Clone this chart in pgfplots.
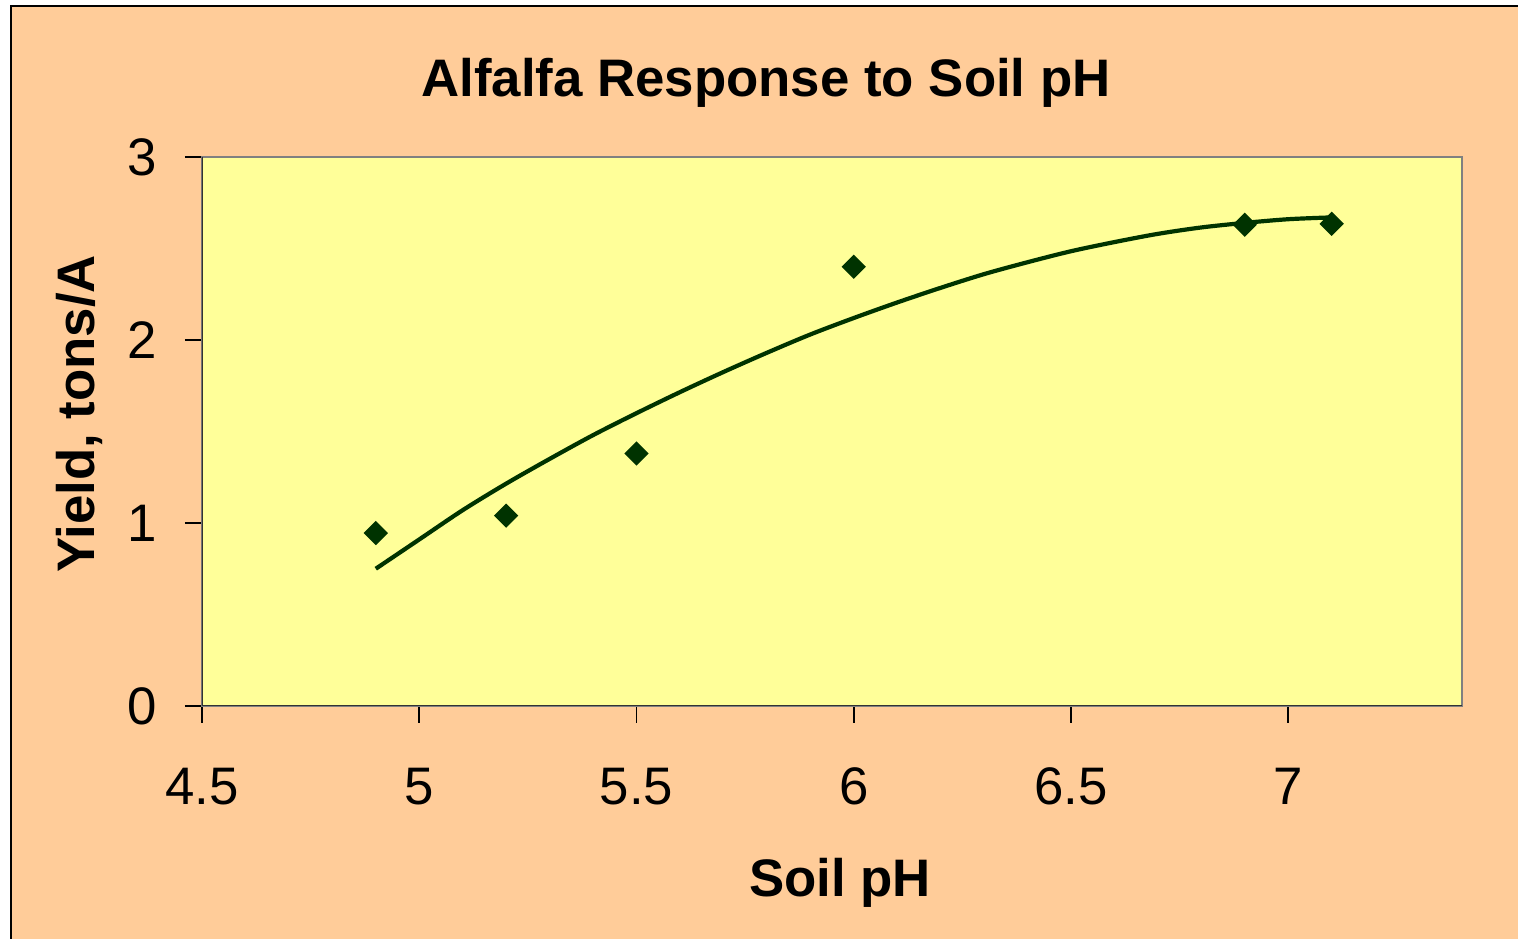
\documentclass[border=0pt]{standalone}
\usepackage{fontspec}
\setmainfont{Liberation Sans}
\usepackage{pgfplots}
\pgfplotsset{compat=1.18}
\definecolor{peach}{HTML}{FFCC99}
\definecolor{paleyellow}{HTML}{FFFF99}
\definecolor{darkgreen}{HTML}{003300}
\newcommand{\chartfont}{\fontsize{13.2}{15}\selectfont}

\begin{document}
\begin{tikzpicture}
% page and chart area (1 px of the reference = 0.25pt)
\path[use as bounding box, fill=white] (-50.5pt,-58.25pt) rectangle (329pt,176.5pt);
\fill[peach] (-47.75pt,-58.25pt) rectangle (329pt,175pt);
\draw[black, line width=0.5pt] (-47.75pt,-58.25pt) -- (-47.75pt,175pt) -- (329pt,175pt);

\begin{axis}[
    at={(0pt,0pt)}, anchor=south west,
    scale only axis, width=315pt, height=137.25pt,
    xmin=4.5, xmax=7.4, ymin=0, ymax=3,
    xtick={4.5,5,5.5,6,6.5,7}, ytick={0,1,2,3},
    tick align=outside, tick pos=left,
    major tick length=4.25pt,
    tick style={black, line width=0.4pt},
    axis background/.style={fill=paleyellow},
    axis line style={draw=gray, line width=0.5pt},
    /pgf/number format/assume math mode=true,
    ticklabel style={font=\chartfont, inner sep=0pt},
    xticklabel style={anchor=base, yshift=-20.5pt},
    yticklabel style={anchor=east, xshift=-6.75pt},
]
    % trend line
    \addplot[darkgreen, line width=1.05pt, smooth, no marks] coordinates {
        (4.9,0.75) (5.0,0.91) (5.1,1.07) (5.2,1.215) (5.3,1.35) (5.4,1.48)
        (5.5,1.60) (5.6,1.715) (5.7,1.825) (5.8,1.93) (5.9,2.03) (6.0,2.12)
        (6.1,2.205) (6.2,2.285) (6.3,2.36) (6.4,2.425) (6.5,2.485) (6.6,2.535)
        (6.7,2.58) (6.8,2.615) (6.9,2.64) (7.0,2.66) (7.1,2.67)
    };
    % observed yields
    \addplot[only marks, mark=square*, mark size=1.95pt,
        mark options={rotate=45, fill=darkgreen, draw=darkgreen}]
        coordinates {(4.9,0.945) (5.2,1.04) (5.5,1.38) (6.0,2.40) (6.9,2.63) (7.1,2.635)};

    \draw[black!80, line width=0.45pt] (rel axis cs:0,1) -- (rel axis cs:0,0) -- (rel axis cs:1,0);
\end{axis}

\node[anchor=base, font=\bfseries\chartfont] at (141pt,152.25pt) {Alfalfa Response to Soil pH};
\node[anchor=base, font=\bfseries\chartfont] at (159.5pt,-47.75pt) {Soil pH};
\node[anchor=base, rotate=90, font=\bfseries\chartfont] at (-26.75pt,73pt) {Yield, tons/A};
\end{tikzpicture}
\end{document}
